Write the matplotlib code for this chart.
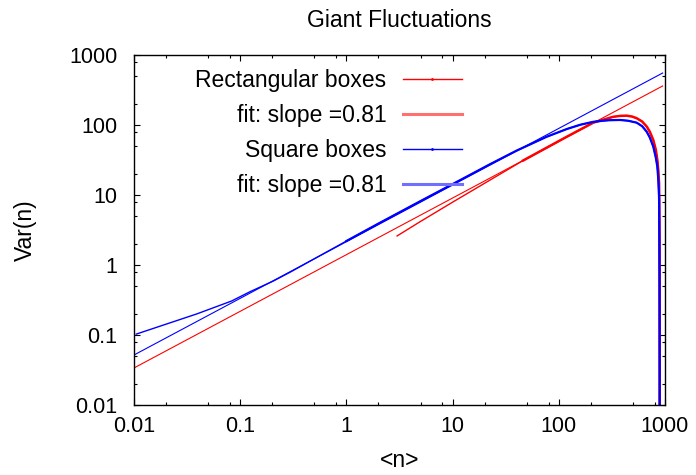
import matplotlib
matplotlib.use("Agg")
import matplotlib.pyplot as plt
from matplotlib.lines import Line2D
from matplotlib.ticker import FixedLocator, FixedFormatter, NullFormatter

plt.rcParams["font.family"] = ["Liberation Sans", "DejaVu Sans"]

# values
rect_x = [3.0, 5, 10, 20, 46, 119, 211, 326, 380, 436, 490, 541, 610, 673, 720, 776, 820,
          847, 866, 879, 884, 888, 890, 891]
rect_y = [2.6, 4.2, 7.9, 14.7, 31, 68, 108, 131, 135, 136, 132, 125, 112, 95, 80, 61, 44,
          31.6, 22, 14.7, 8.0, 2.0, 0.3, 0.005]

sq_x = [0.0105, 0.039, 0.083, 0.124, 0.205, 0.3, 0.5, 1, 2, 5, 10, 22.5, 40, 77, 120, 160,
        211, 260, 300, 377, 450, 541, 610, 673, 720, 776, 820, 847, 866, 879, 884, 888,
        890, 891]
sq_y = [0.103, 0.2, 0.306, 0.416, 0.59, 0.80, 1.23, 2.2, 3.9, 8.2, 14.3, 27.5, 43, 68, 88,
        101, 111, 115, 117, 118, 115, 108, 96, 80, 66, 49, 34, 25.4, 16, 9.5, 4.0, 0.8,
        0.05, 0.005]

# fits (slope 0.81), straight lines in log-log: just the end points
fit_x = [0.01, 950]
rect_fit_y = [0.0338, 361]
sq_fit_y = [0.0518, 553]

labels = ["Rectangular boxes", "fit: slope =0.81", "Square boxes", "fit: slope =0.81"]
major_ticks = [0.01, 0.1, 1, 10, 100, 1000]
major_labels = ["0.01", "0.1", "1", "10", "100", "1000"]
minor_subs = [2, 5, 8]

fig = plt.figure(figsize=(6.96, 4.75), dpi=100)
ax = fig.add_axes([134 / 696, 70 / 475, 531 / 696, 350 / 475])

ax.plot(fit_x, rect_fit_y, color="#ff0000", lw=0.8)
ax.plot(fit_x, sq_fit_y, color="#0000ff", lw=0.8)
# thin line where the points are sparse, heavier where they pile up
ax.plot(rect_x, rect_y, color="#ff0000", lw=1.0)
ax.plot(rect_x[4:], rect_y[4:], color="#ff0000", lw=1.8)
ax.plot(sq_x, sq_y, color="#0000ff", lw=1.0)
ax.plot(sq_x[7:], sq_y[7:], color="#0000ff", lw=1.6)

ax.set_xscale("log")
ax.set_yscale("log")
ax.set_xlim(major_ticks[0], major_ticks[-1])
ax.set_ylim(major_ticks[0], major_ticks[-1])

minor = [m * s for m in major_ticks[:-1] for s in minor_subs]
for axis in (ax.xaxis, ax.yaxis):
    axis.set_major_locator(FixedLocator(major_ticks))
    axis.set_major_formatter(FixedFormatter(major_labels))
    axis.set_minor_locator(FixedLocator(minor))
    axis.set_minor_formatter(NullFormatter())

ax.tick_params(which="both", direction="in", top=True, right=True, width=0.8, labelsize=15.5)
ax.tick_params(which="major", length=4.3)
ax.tick_params(which="minor", length=2.2)
ax.tick_params(axis="x", pad=8)
ax.tick_params(axis="y", pad=12)
for s in ax.spines.values():
    s.set_linewidth(1.0)

ax.set_title("Giant Fluctuations", fontsize=16.5, pad=20)
ax.set_xlabel("<n>", fontsize=16.5)
ax.xaxis.set_label_coords(0.5, -0.125)
ax.set_ylabel("Var(n)", fontsize=16.5)
ax.yaxis.set_label_coords(-0.183, 0.5)

handles = [
    Line2D([], [], color="#ff0000", lw=1.0, marker=".", markersize=2),
    Line2D([], [], color="#ff7070", lw=2.2),
    Line2D([], [], color="#0000ff", lw=1.0, marker=".", markersize=2),
    Line2D([], [], color="#7070ff", lw=2.2),
]
ax.legend(handles, labels, loc="upper right", bbox_to_anchor=(0.618, 0.96), frameon=False,
          markerfirst=False, fontsize=16.5, handlelength=2.6, handletextpad=0.7,
          labelspacing=0.52, borderpad=0, borderaxespad=0, numpoints=1)

fig.savefig("out.png", dpi=100)
